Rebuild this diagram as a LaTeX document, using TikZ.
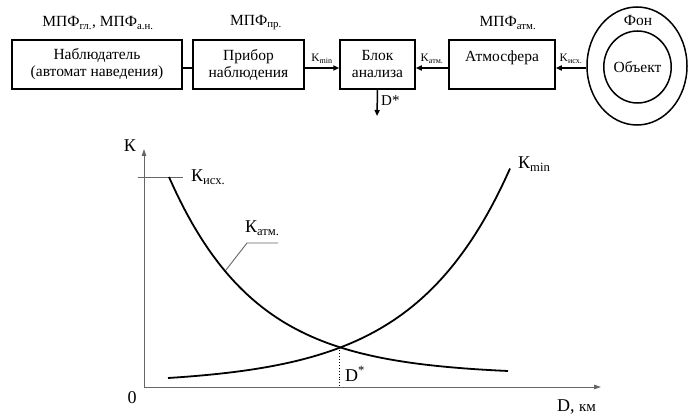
\documentclass[tikz,border=0pt]{standalone}
\usepackage{fontspec}
\setmainfont{Liberation Serif}
\usetikzlibrary{arrows.meta,shapes.geometric}
\begin{document}
\begin{tikzpicture}[x=1pt,y=-1pt,
  blk/.style={draw, line width=1.5pt, minimum height=49pt, inner sep=0pt, align=center, font=\fontsize{15.5}{17}\selectfont},
  toplbl/.style={font=\fontsize{15.5}{17}\selectfont, inner sep=0pt},
  sm/.style={font=\fontsize{11.5}{12}\selectfont, inner sep=0pt},
  conn/.style={line width=1.5pt},
  arr/.style={line width=1.5pt, -{Triangle[length=6pt,width=5pt]}},
  ring/.style={draw, ellipse, line width=1.5pt, inner sep=0pt},
  curve/.style={line width=1.8pt},
  axisline/.style={line width=0.9pt, draw=black!60, -{Triangle[length=7pt,width=4.5pt]}},
  thin/.style={line width=0.9pt, draw=black!60},
  glbl/.style={font=\fontsize{18}{20}\selectfont, inner sep=0pt}
]
\useasboundingbox (0,0) rectangle (691,417);

% top labels
\node[toplbl] (l1) at (98,23) {МПФ\textsubscript{гл.}, МПФ\textsubscript{а.н.}};
\node[toplbl] (l2) at (256,23) {МПФ\textsubscript{пр.}};
\node[toplbl] (l3) at (508,23) {МПФ\textsubscript{атм.}};

% blocks
\node[blk, minimum width=170pt] (b1) at (97,64.5) {Наблюдатель\\(автомат наведения)};
\node[blk, minimum width=111pt] (b2) at (248.5,64.5) {Прибор\\наблюдения};
\node[blk, minimum width=75pt] (b3) at (377.5,64.5) {Блок\\анализа};
\node[blk, minimum width=106pt] (b4) at (502,64.5) {Атмосфера\\~};

% object / background
\node[ring, minimum width=100pt, minimum height=118pt] (fon) at (637,66) {};
\node[ring, minimum width=64pt, minimum height=72pt, font=\fontsize{15.5}{17}\selectfont] (obj) at (637.5,67) {Объект};
\node[toplbl] (fonl) at (638,21) {Фон};

% connectors
\draw[conn] ([yshift=-3.5pt]b1.east) -- ([yshift=-3.5pt]b2.west);
\draw[arr] ([yshift=-3.5pt]b2.east) -- node[sm, above=4pt] (kmin) {K\textsubscript{min}} ([yshift=-3.5pt]b3.west);
\draw[arr] ([yshift=-3.5pt]b4.west) -- node[sm, above=4pt] (katm) {K\textsubscript{атм.}} ([yshift=-3.5pt]b3.east);
\draw[arr] ([yshift=-2pt]fon.west) -- node[sm, above=4pt] (kisx) {K\textsubscript{исх.}} ([yshift=-3.5pt]b4.east);
\coordinate (dout) at (377,116);
\draw[arr] (b3.south) -- (dout);
\node[font=\fontsize{15}{16}\selectfont, inner sep=0pt, anchor=base west] (dstar) at (381,106) {D*};

% graph
\coordinate (O) at (144,387);
\coordinate (ytop) at (144,149);
\coordinate (xend) at (601,387);
\draw[axisline] (O) -- (ytop);
\draw[axisline] (O) -- (xend);
\node[glbl] (klab) at (130,146) {К};
\node[glbl, anchor=base] (zero) at (132,403) {0};
\node[glbl, anchor=base west] (dkm) at (557,411) {D, \fontsize{15}{17}\selectfont км};

\coordinate (t1) at (138,177);
\coordinate (t2) at (183,177);
\draw[thin] (t1) -- (t2);
\node[glbl, anchor=base west] (kisxg) at (191,182) {К\textsubscript{исх.}};

\draw[curve] plot[domain=169:508, samples=120] (\x, {387 - (12 + 198*exp(-0.0115*(\x-169)))});
\draw[curve] plot[domain=168:510, samples=120] (\x, {387 - (2.96 + 6.04*exp(0.01045*(\x-168)))});

\coordinate (c1) at (226,270);
\coordinate (c2) at (247,243);
\coordinate (c3) at (278,243);
\draw[thin] (c1) -- (c2) -- (c3);
\node[glbl, anchor=base west] (katmg) at (245,233) {К\textsubscript{атм.}};

\node[glbl, anchor=base west] (kming) at (518,169) {К\textsubscript{min}};

\coordinate (ix) at (339,347.5);
\coordinate (ixb) at (339,387);
\draw[dotted, line width=0.9pt] (ix) -- (ixb);
\node[glbl, anchor=base west] (dsg) at (345,381) {D\textsuperscript{*}};
\end{tikzpicture}
\end{document}
